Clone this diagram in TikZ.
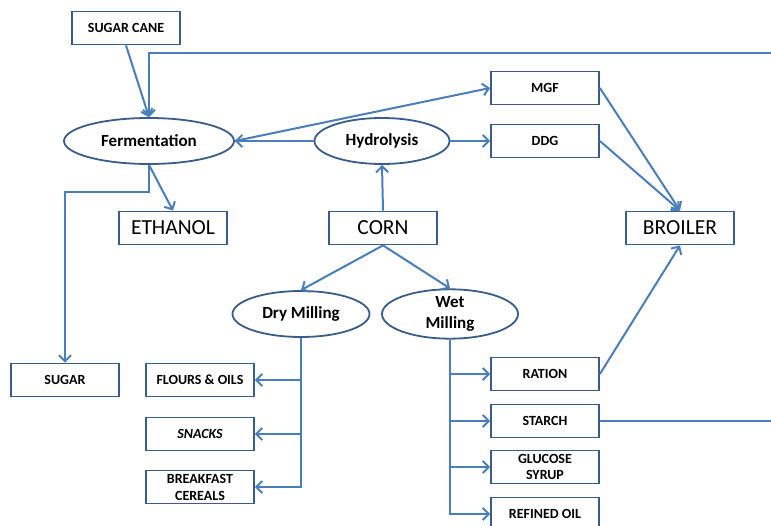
\documentclass[tikz,border=0pt]{standalone}
\usepackage{fontspec}
\setmainfont{Carlito}
\usetikzlibrary{shapes.geometric,arrows.meta}
\definecolor{linec}{HTML}{4A7EBB}
\definecolor{boxc}{HTML}{385D8A}
\tikzset{
  box/.style={draw=boxc,line width=1.8pt,fill=white,rectangle,inner sep=0pt,minimum width=108pt,minimum height=33pt,align=center,font=\bfseries\fontsize{14}{15}\selectfont},
  bigbox/.style={box,font=\fontsize{21.5}{23}\selectfont},
  oval/.style={draw=boxc,line width=1.8pt,fill=white,ellipse,inner sep=0pt,minimum height=46pt,align=center,font=\bfseries\fontsize{17}{21}\selectfont},
  conn/.style={draw=linec,line width=2pt},
  arr/.style={conn,-{Straight Barb[length=6pt,width=12pt,line width=2pt]}}
}
\begin{document}
\begin{tikzpicture}[x=1pt,y=-1pt]
\useasboundingbox (0,0) rectangle (771,526);
\node[box] (sc) at (126,28) {SUGAR CANE};
\node[oval,minimum width=170pt] (ferm) at (149,141) {Fermentation};
\node[oval,minimum width=135pt] (hyd) at (382,141) {Hydrolysis};
\node[box] (mgf) at (545,88) {MGF};
\node[box] (ddg) at (545,141) {DDG};
\node[bigbox] (eth) at (173,228) {ETHANOL};
\node[bigbox] (corn) at (383,228) {CORN};
\node[bigbox] (bro) at (680,228) {BROILER};
\node[oval,minimum width=137pt] (dry) at (301,314) {Dry Milling};
\node[oval,minimum width=136pt] (wet) at (450,314) {Wet\\Milling};
\node[box] (sug) at (65,380) {SUGAR};
\node[box] (flo) at (200,380) {FLOURS \& OILS};
\node[box] (snk) at (200,434) {\itshape SNACKS};
\node[box,font=\bfseries\fontsize{14}{17}\selectfont] (cer) at (200,487) {BREAKFAST\\CEREALS};
\node[box] (rat) at (545,374) {RATION};
\node[box] (sta) at (545,421) {STARCH};
\node[box,font=\bfseries\fontsize{14}{16}\selectfont] (glu) at (545,467) {GLUCOSE\\SYRUP};
\node[box] (ref) at (545,514) {REFINED OIL};
\coordinate (topR) at (771,53);
\coordinate (staR) at (771,421);
\coordinate (fbend) at (149,192);
% connectors
\draw[arr] (sc.south) -- (ferm.north);
\draw[arr] (topR) -| (ferm.north);
\draw[arr] (hyd.west) -- (ferm.east);
\draw[arr] (ferm.east) -- (mgf.west);
\draw[arr] (hyd.east) -- (ddg.west);
\draw[arr] (corn.north) -- (hyd.south);
\draw[arr] (ferm.south) -- (eth.north);
\draw[arr] (ferm.south) -- (fbend) -| (sug.north);
\draw[arr] (corn.south) -- (dry.north);
\draw[arr] (corn.south) -- (wet.north);
\draw[arr] (mgf.east) -- (bro.north);
\draw[arr] (ddg.east) -- (bro.north);
\draw[arr] (rat.east) -- (bro.south);
\draw[conn] (sta.east) -- (staR);
\draw[arr] (dry.south) |- (cer.east);
\draw[arr] (dry.south |- flo.east) -- (flo.east);
\draw[arr] (dry.south |- snk.east) -- (snk.east);
\draw[arr] (wet.south) |- (ref.west);
\draw[arr] (wet.south |- rat.west) -- (rat.west);
\draw[arr] (wet.south |- sta.west) -- (sta.west);
\draw[arr] (wet.south |- glu.west) -- (glu.west);
\end{tikzpicture}
\end{document}
